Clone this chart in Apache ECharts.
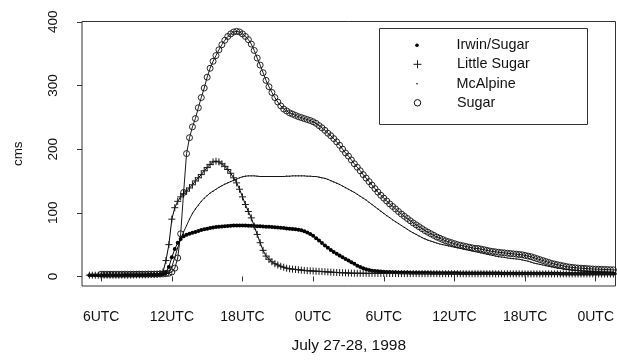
<!DOCTYPE html>
<html><head><meta charset="utf-8">
<script src="https://cdn.jsdelivr.net/npm/echarts@6/dist/echarts.min.js"></script>
<style>html,body{margin:0;padding:0;background:#fff}#c{width:617px;height:362px}</style>
</head><body><div id="c"></div>
<script>
// ---- data (15-minute steps starting 05:00 UTC July 27) ----
const startHour = 5;
const stepHours = 0.25;
const tickHours = [6, 12, 18, 24, 30, 36, 42, 48];
const tickLabels = ['6UTC', '12UTC', '18UTC', '0UTC', '6UTC', '12UTC', '18UTC', '0UTC'];
const yTicks = [0, 100, 200, 300, 400];
const seriesNames = ['Irwin/Sugar', 'Little Sugar', 'McAlpine', 'Sugar'];
const xTitle = 'July 27-28, 1998';
const yTitle = 'cms';

const irwinSugar = [
  2,2,2,2, 2,2,2,2, 2,2,2,2, 2.2,2.2,2.2,2.2, 2.3,2.3,2.4,2.4, 2.5,2.6,2.7,2.8,
  3,4,7,15, 30,43,53,59, 63,65.5,67,68.5, 70,71.5,73,74, 75,76,77,77.5, 78,78.5,79,79.3,
  79.6,80,80,80, 80,80,79.8,79.5, 79.3,79,78.8,78.5, 78.2,78,77.6,77.2, 77,76.5,76,75.5,
  75,74.5,74,73.5, 72.5,71,69,66.5, 64,60,56.5,52.5, 48.5,45,41.5,38.5, 35.5,33,30,27.5,
  25,22.5,20,17, 15,13,11.5,10, 9,8.5,8,7.6, 7.3,7,6.8,6.6, 6.5,6.4,6.3,6.2,
  6.1,6,5.9,5.9, 5.8,5.8,5.7,5.7, 5.6,5.6,5.5,5.5, 5.4,5.4,5.4,5.3, 5.3,5.3,5.2,5.2,
  5.2,5.1,5.1,5.1, 5,5,5,5, 4.9,4.9,4.9,4.9, 4.8,4.8,4.8,4.8, 4.7,4.7,4.7,4.7,
  4.6,4.6,4.6,4.6, 4.6,4.5,4.5,4.5, 4.5,4.5,4.5,4.5, 4.4,4.4,4.4,4.4, 4.4,4.4,4.4,4.4,
  4.4,4.4,4.3,4.3, 4.3,4.3,4.3,4.3, 4.2,4.2,4.2,4.2
];
const littleSugar = [
  2,2,2,2, 2,2,2,2, 2,2,2,2, 2,2,2.2,2.4, 2.5,2.5,2.5,2.5, 2.8,3,3,3.2,
  4,7,25,50, 90,108,118,125, 130,134,139,144, 150,155,160,166, 171,176,180,181, 180,177,173,168,
  162,155,147,137, 125,113,102,92, 79,66,53,41, 32,27,23,20, 18,16,14.5,13,
  12,11.5,11,10.5, 10,9.5,9,8.8, 8.5,8.2,8,7.7, 7.4,7.1,6.8,6.5, 6.2,6,5.8,5.6,
  5.4,5.2,5.1,5, 5,4.9,4.9,4.8, 4.8,4.8,4.7,4.7, 4.7,4.6,4.6,4.6, 4.6,4.6,4.5,4.5,
  4.5,4.5,4.5,4.5, 4.4,4.4,4.4,4.4, 4.4,4.4,4.4,4.3, 4.3,4.3,4.3,4.3, 4.3,4.3,4.3,4.3,
  4.2,4.2,4.2,4.2, 4.2,4.2,4.2,4.2, 4.2,4.2,4.1,4.1, 4.1,4.1,4.1,4.1, 4.1,4.1,4.1,4.1,
  4,4,4,4, 4,4,4,4, 4,4,4,4, 4,4,4,4, 4,4,4,4,
  4,4,4,4, 3.9,3.9,3.9,3.9, 3.9,3.9,3.9,3.9
];
const mcAlpine = [
  1.5,1.5,1.5,1.5, 1.5,1.5,1.5,1.5, 1.5,1.5,1.5,1.5, 1.6,1.6,1.6,1.6, 1.7,1.7,1.8,1.8, 1.9,1.9,2,2,
  2,2.5,3,6, 15,30,45,59, 70,80,90,99, 106,112,118,123, 127,131,134,137, 140,142.5,145,147,
  149,151,153,155, 156.5,157.5,158,158, 158,157.5,157,157, 157,157,157,157, 157,157,157,157.5,
  157.5,158,158,158, 158,158,157.5,157.5, 157,157,156,155, 154,152.5,150.5,148.5, 146.5,144.5,142,139.5,
  137,134.5,132,129, 126,123,120,116.5, 113,109.5,106,102.5, 99,95.5,92.5,89, 86,83,80,77,
  74,71,68.5,66, 63.5,61,59,57, 55.5,54,52.5,51, 50,49,48,47, 46,45,44,43,
  42,41,40,39, 38,37,36,35, 34,33,32,31, 30.5,30,29,28.5, 28,27.5,27,26,
  25,24,22.5,21, 20,19,18,17, 16,15,14,13, 12.5,11.5,11,10.5, 10,9.5,9,8.7,
  8.3,8,7.7,7.5, 7.2,7,6.8,6.6, 6.4,6.2,6,5.8
];
const sugar = [
  null,null,null,null, 3.5,3.5,3.5,3.5, 3.5,3.5,3.5,3.5, 3.5,3.5,3.5,3.5, 3.6,3.6,3.6,3.6, 3.7,3.7,3.8,3.8,
  4,4,4.5,5, 7,13,29,67, 132,193,218,235, 248,265,281,296, 313,327,338,347, 356,364,371,377,
  381,384,385,384, 381,377,372,365, 355,343,332,320, 308,298,289,281, 274,268,263,260,
  257,255,253,251, 249.5,248,246.5,245, 243,240.5,237,233.5, 229.5,225,221,216.5, 211.5,206,200,194,
  189,183,177,171.5, 166,160,154.5,149, 143.5,138,132.5,127.5, 123,118.5,114,110, 106,102,98,94.5,
  91,87.5,84,81, 78,75,72,69.5, 67,64.5,62,60, 58,56,54.5,53, 51.5,50,49,48,
  47,46,45,44, 44,43,42,41, 40,39.3,38.6,38, 37.5,37,36.5,36, 35.5,35,34.5,34,
  33,32,31,29.5, 28,26.5,25,23.5, 22,20.5,19.5,18.5, 17.5,16.5,15.5,14.8, 14.2,13.7,13.3,13,
  12.6,12.3,12,11.7, 11.5,11.3,11.1,11, 10.8,10.6,10.4,10.2
];

// ---- build ----
const nPoints = Math.max(irwinSugar.length, littleSugar.length, mcAlpine.length, sugar.length);
const hours = Array.from({length: nPoints}, (_, i) => startHour + i * stepHours);
const pair = arr => arr.map((v, i) => [hours[i], v]).filter(p => p[1] !== null && p[1] !== undefined);

const FONT = "'Liberation Sans', Arial, Helvetica, sans-serif";
const INK = '#111';
const plusPath = 'path://M0,5L10,5M5,0L5,10';

const legendIconCenterX = 417;
const legendTextX = 456.5;
const legendRowCenters = [45.5, 64.5, 84, 103];
const legendIcons = ['circle', plusPath, 'circle', 'circle'];
const legendIconSizes = [3.6, 8, 1.6, 6.5];
const legendBorderWidths = [0, 1, 0, 1];

const chart = echarts.init(document.getElementById('c'), null, {renderer: 'canvas'});
chart.setOption({
  animation: false,
  backgroundColor: '#fff',
  grid: {left: 82, top: 21.5, right: -1, bottom: 76, show: true, borderColor: '#333', borderWidth: 1, containLabel: false},
  xAxis: {
    type: 'value', min: 4.37, max: 49.68,
    name: xTitle, nameLocation: 'middle', nameGap: 52,
    nameTextStyle: {fontFamily: FONT, fontSize: 15.5, color: INK},
    axisLine: {show: false},
    splitLine: {show: false},
    axisTick: {show: true, length: 5, lineStyle: {color: '#333'}, customValues: tickHours},
    axisLabel: {
      customValues: tickHours, margin: 24, fontFamily: FONT, fontSize: 14, color: INK,
      formatter: v => tickLabels[tickHours.indexOf(v)]
    }
  },
  yAxis: {
    type: 'value', min: -15, max: 400.5,
    name: yTitle, nameLocation: 'middle', nameGap: 57,
    nameTextStyle: {fontFamily: FONT, fontSize: 13.5, color: INK},
    axisLine: {show: false},
    splitLine: {show: false},
    axisTick: {show: true, length: 5, lineStyle: {color: '#333'}, customValues: yTicks},
    axisLabel: {customValues: yTicks, rotate: 90, margin: 22, fontFamily: FONT, fontSize: 13.5, color: INK}
  },
  legend: seriesNames.map((name, i) => {
    const s = legendIconSizes[i];
    return {
      data: [{name: name, icon: legendIcons[i]}],
      left: legendIconCenterX - s / 2, top: legendRowCenters[i] - 7.2,
      itemWidth: s, itemHeight: s, padding: 0,
      selectedMode: false,
      itemStyle: {borderWidth: legendBorderWidths[i]},
      textStyle: {fontFamily: FONT, fontSize: 14.4, color: INK,
                  padding: [0, 0, 0, legendTextX - (legendIconCenterX + s / 2 + 5)]}
    };
  }),
  graphic: [{
    type: 'rect', z: 1,
    shape: {x: 379.5, y: 28.5, width: 208, height: 96},
    style: {fill: '#fff', stroke: '#333', lineWidth: 1}
  }],
  series: [
    {
      name: seriesNames[0], type: 'line', data: pair(irwinSugar),
      symbol: 'circle', symbolSize: 4,
      itemStyle: {color: '#000'},
      lineStyle: {color: '#000', width: 1}, z: 2
    },
    {
      name: seriesNames[1], type: 'line', data: pair(littleSugar),
      symbol: plusPath, symbolSize: 7,
      itemStyle: {color: 'rgba(0,0,0,0)', borderColor: '#1a1a1a', borderWidth: 1},
      lineStyle: {color: '#000', width: 1}, z: 3
    },
    {
      name: seriesNames[2], type: 'line', data: pair(mcAlpine),
      symbol: 'circle', symbolSize: 1.2,
      itemStyle: {color: '#000'},
      lineStyle: {color: '#000', width: 0.9}, z: 4
    },
    {
      name: seriesNames[3], type: 'line', data: pair(sugar),
      symbol: 'circle', symbolSize: 6,
      itemStyle: {color: 'rgba(0,0,0,0)', borderColor: '#111', borderWidth: 0.9},
      lineStyle: {color: '#000', width: 0.9}, z: 5
    }
  ]
});
</script>
</body></html>
